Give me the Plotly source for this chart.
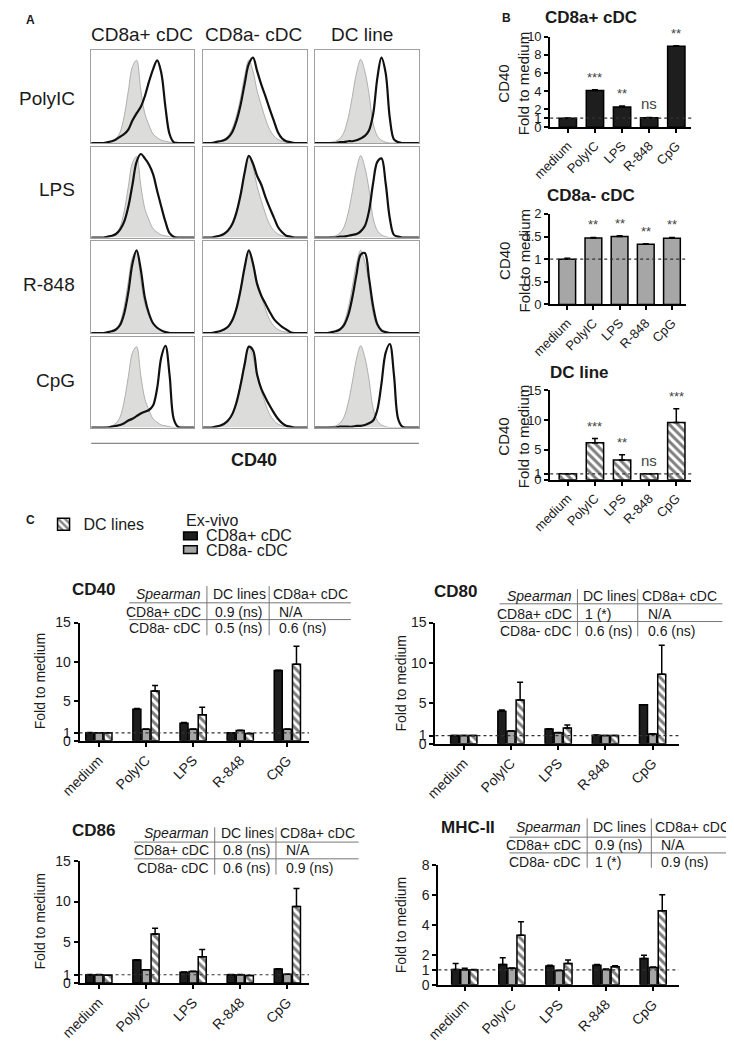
import plotly.graph_objects as go

W, H = 734, 1048
# the html page puts the figure 8px in from the top-left corner (body margin),
# so the figure is drawn 8px smaller and all pixel positions are shifted by it
OFF = 8
FW, FH = W - OFF, H - OFF
FONT = "Liberation Sans, Arial, sans-serif"

################################################################################
# data
################################################################################

STIMULI = ['PolyIC', 'LPS', 'R-848', 'CpG']
CELLS = ['CD8a+ cDC', 'CD8a- cDC', 'DC line']
CATS = ['medium', 'PolyIC', 'LPS', 'R-848', 'CpG']

# panel A histograms: relative position in the box / relative height
HIST_X = [0.00, 0.04, 0.08, 0.12, 0.16, 0.20, 0.24, 0.28, 0.32, 0.36, 0.40, 0.44, 0.48,
          0.52, 0.56, 0.60, 0.64, 0.68, 0.72, 0.76, 0.80, 0.84, 0.88, 0.92, 0.96, 1.00]

# grey filled = medium control, one per column
CTRL_CD8P = [0, 0, 0, 0, 0.01, 0.02, 0.05, 0.12, 0.3, 0.58, 0.85, 0.92, 0.6, 0.33, 0.2, 0.1,
             0.06, 0.03, 0.02, 0.01, 0, 0, 0, 0, 0, 0]
CTRL_CD8N = [0, 0, 0, 0.01, 0.02, 0.04, 0.08, 0.16, 0.3, 0.5, 0.75, 0.92, 0.8, 0.58, 0.42, 0.27,
             0.15, 0.08, 0.04, 0.02, 0.01, 0, 0, 0, 0, 0]
CTRL_DCL = [0, 0, 0, 0, 0.01, 0.02, 0.05, 0.12, 0.28, 0.52, 0.78, 0.93, 0.8, 0.55, 0.22, 0.08,
            0.03, 0.01, 0, 0, 0, 0, 0, 0, 0, 0]

# black line = stimulated
POLYIC_CD8P = [0, 0, 0, 0, 0.01, 0.02, 0.04, 0.07, 0.1, 0.15, 0.25, 0.33, 0.4, 0.52, 0.68, 0.82,
               0.92, 0.78, 0.4, 0.1, 0.01, 0, 0, 0, 0, 0]
POLYIC_CD8N = [0, 0, 0, 0.01, 0.02, 0.03, 0.06, 0.12, 0.24, 0.42, 0.66, 0.88, 0.95, 0.8, 0.65, 0.52,
               0.38, 0.25, 0.12, 0.05, 0.02, 0.01, 0, 0, 0, 0]
POLYIC_DCL = [0, 0, 0, 0, 0, 0, 0.01, 0.01, 0.02, 0.02, 0.03, 0.05, 0.08, 0.14, 0.32, 0.72,
              0.95, 0.78, 0.28, 0.04, 0.01, 0, 0, 0, 0, 0]
LPS_CD8P = [0, 0, 0, 0, 0.01, 0.02, 0.04, 0.09, 0.18, 0.35, 0.6, 0.86, 0.95, 0.9, 0.83, 0.72,
            0.53, 0.35, 0.18, 0.05, 0.01, 0, 0, 0, 0, 0]
LPS_CD8N = [0, 0, 0, 0.01, 0.02, 0.04, 0.08, 0.15, 0.28, 0.48, 0.74, 0.93, 0.84, 0.7, 0.6, 0.46,
            0.34, 0.23, 0.12, 0.06, 0.02, 0.01, 0, 0, 0, 0]
LPS_DCL = [0, 0, 0, 0, 0, 0, 0.01, 0.01, 0.02, 0.03, 0.04, 0.07, 0.13, 0.3, 0.62, 0.86,
           0.9, 0.62, 0.22, 0.03, 0.01, 0, 0, 0, 0, 0]
R848_CD8P = [0, 0, 0, 0, 0.01, 0.02, 0.04, 0.09, 0.22, 0.46, 0.78, 0.93, 0.72, 0.4, 0.22, 0.11,
             0.06, 0.03, 0.01, 0, 0, 0, 0, 0, 0, 0]
R848_CD8N = [0, 0, 0, 0.01, 0.02, 0.04, 0.07, 0.14, 0.27, 0.48, 0.74, 0.93, 0.78, 0.55, 0.42, 0.33,
             0.24, 0.16, 0.11, 0.07, 0.04, 0.01, 0, 0, 0, 0]
R848_DCL = [0, 0, 0, 0, 0.01, 0.02, 0.04, 0.09, 0.2, 0.4, 0.66, 0.88, 0.9, 0.62, 0.3, 0.1,
            0.03, 0.01, 0, 0, 0, 0, 0, 0, 0, 0]
CPG_CD8P = [0, 0, 0, 0, 0, 0.01, 0.02, 0.03, 0.05, 0.08, 0.1, 0.13, 0.16, 0.18, 0.2, 0.25,
            0.45, 0.8, 0.93, 0.6, 0.1, 0.01, 0, 0, 0, 0]
CPG_CD8N = [0, 0, 0, 0.01, 0.02, 0.04, 0.08, 0.15, 0.28, 0.48, 0.72, 0.92, 0.88, 0.6, 0.44, 0.34,
            0.25, 0.17, 0.1, 0.05, 0.02, 0.01, 0, 0, 0, 0]
CPG_DCL = [0, 0, 0, 0, 0, 0, 0.01, 0.01, 0.01, 0.01, 0.02, 0.02, 0.03, 0.05, 0.08, 0.2,
           0.5, 0.85, 0.95, 0.6, 0.1, 0.01, 0, 0, 0, 0]

# panel B: CD40 fold to medium
B_CD8P = [1.0, 4.05, 2.25, 1.05, 8.95]
B_CD8P_ERR = [0.02, 0.08, 0.1, 0.03, 0.05]
B_CD8P_SIG = ['', '***', '**', 'ns', '**']
B_CD8N = [1.0, 1.47, 1.5, 1.33, 1.46]
B_CD8N_ERR = [0.02, 0.01, 0.02, 0.01, 0.02]
B_CD8N_SIG = ['', '**', '**', '**', '**']
B_DCL = [1.0, 6.2, 3.3, 1.0, 9.6]
B_DCL_ERR = [0, 0.7, 0.9, 0, 2.3]
B_DCL_SIG = ['', '***', '**', 'ns', '***']

# panel C: fold to medium, ex-vivo vs DC lines
CD40_CD8P = [1.0, 4.0, 2.2, 1.0, 8.9]
CD40_CD8P_ERR = [0.03, 0.1, 0.1, 0.02, 0.05]
CD40_CD8N = [1.0, 1.45, 1.45, 1.3, 1.45]
CD40_CD8N_ERR = [0.02, 0.02, 0.02, 0.02, 0.02]
CD40_DCL = [1.0, 6.3, 3.3, 0.9, 9.7]
CD40_DCL_ERR = [0, 0.7, 0.95, 0, 2.3]

CD80_CD8P = [1.0, 4.0, 1.8, 1.05, 4.8]
CD80_CD8P_ERR = [0.02, 0.15, 0.05, 0.02, 0.02]
CD80_CD8N = [1.0, 1.55, 1.35, 1.0, 1.2]
CD80_CD8N_ERR = [0.02, 0.02, 0.02, 0.02, 0.02]
CD80_DCL = [1.0, 5.4, 1.95, 1.0, 8.6]
CD80_DCL_ERR = [0, 2.2, 0.35, 0, 3.6]

CD86_CD8P = [1.0, 2.8, 1.3, 1.0, 1.7]
CD86_CD8P_ERR = [0.02, 0.05, 0.03, 0.02, 0.05]
CD86_CD8N = [1.0, 1.6, 1.4, 1.0, 1.05]
CD86_CD8N_ERR = [0.02, 0.02, 0.02, 0.02, 0.02]
CD86_DCL = [0.95, 6.0, 3.2, 0.9, 9.4]
CD86_DCL_ERR = [0, 0.7, 0.9, 0, 2.2]

MHC_CD8P = [1.03, 1.36, 1.25, 1.3, 1.75]
MHC_CD8P_ERR = [0.4, 0.45, 0.05, 0.05, 0.22]
MHC_CD8N = [1.0, 1.1, 0.95, 1.03, 1.16]
MHC_CD8N_ERR = [0.1, 0.03, 0.03, 0.03, 0.03]
MHC_DCL = [1.0, 3.3, 1.43, 1.2, 4.93]
MHC_DCL_ERR = [0.03, 0.9, 0.22, 0.08, 1.07]

# Spearman tables
SPEARMAN_HEADER = ['<i>Spearman</i>', 'DC lines', 'CD8a+ cDC']
SPEARMAN_ROWS = ['CD8a+ cDC', 'CD8a- cDC']
SPEARMAN_CD40 = [['0.9 (ns)', 'N/A'], ['0.5 (ns)', '0.6 (ns)']]
SPEARMAN_CD80 = [['1 (*)', 'N/A'], ['0.6 (ns)', '0.6 (ns)']]
SPEARMAN_CD86 = [['0.8 (ns)', 'N/A'], ['0.6 (ns)', '0.9 (ns)']]
SPEARMAN_MHC = [['0.9 (ns)', 'N/A'], ['1 (*)', '0.9 (ns)']]

################################################################################

fig = go.Figure()
axes = {}
shapes = []
annotations = []

BLACK = dict(color='#1e1e1e', line=dict(color='black', width=1.5))
GREY = dict(color='#a6a6a6', line=dict(color='black', width=1.5))
HATCH = dict(color='white', line=dict(color='black', width=1.5),
             pattern=dict(shape='\\', fgcolor='black', bgcolor='white', size=6, solidity=0.5))


def px(x):
    return (x - OFF) / FW


def py(y):
    return 1 - (y - OFF) / FH


def refs(n):
    s = '' if n == 1 else str(n)
    return 'xaxis' + s, 'yaxis' + s, 'x' + s, 'y' + s


def add_axes(n, box, xprops, yprops):
    # box in page pixels: (left, right, top, bottom)
    x0, x1, y0, y1 = box
    xa, ya, xr, yr = refs(n)
    axes[xa] = dict(domain=[px(x0), px(x1)], anchor=yr, **xprops)
    axes[ya] = dict(domain=[py(y1), py(y0)], anchor=xr, **yprops)
    return xr, yr


def text(x, y, s, size=14, xanchor='center', angle=0, color='#1a1a1a'):
    annotations.append(dict(x=px(x), y=py(y), xref='paper', yref='paper', text=s,
                            showarrow=False, xanchor=xanchor, yanchor='middle',
                            textangle=angle, font=dict(family=FONT, size=size, color=color)))


def line(x0, y0, x1, y1, color='#777777', width=1):
    shapes.append(dict(type='line', xref='paper', yref='paper', x0=px(x0), x1=px(x1),
                       y0=py(y0), y1=py(y1), line=dict(color=color, width=width)))


def swatch(x0, y0, x1, y1, color):
    shapes.append(dict(type='rect', xref='paper', yref='paper', x0=px(x0), x1=px(x1),
                       y0=py(y1), y1=py(y0), fillcolor=color,
                       line=dict(color='black', width=1.5)))


# ---------------- panel A: histograms ----------------
HIST_COLS = [(73, 179), (188, 295), (303, 410)]
HIST_ROWS = [(43, 137), (141, 233), (237, 330), (334, 426)]
ctrl = [CTRL_CD8P, CTRL_CD8N, CTRL_DCL]
stim = [[POLYIC_CD8P, POLYIC_CD8N, POLYIC_DCL],
        [LPS_CD8P, LPS_CD8N, LPS_DCL],
        [R848_CD8P, R848_CD8N, R848_DCL],
        [CPG_CD8P, CPG_CD8N, CPG_DCL]]

hist_ax = dict(showline=True, mirror=True, linecolor='#a0a0a0', linewidth=1,
               showticklabels=False, ticks='', showgrid=False, zeroline=False, fixedrange=True)
n = 1
for r, (y0, y1) in enumerate(HIST_ROWS):
    for c, (x0, x1) in enumerate(HIST_COLS):
        xr, yr = add_axes(n, (x0, x1, y0, y1), dict(hist_ax, range=[0, 1]),
                          dict(hist_ax, range=[0, 1.03]))
        fig.add_trace(go.Scatter(x=HIST_X, y=ctrl[c], xaxis=xr, yaxis=yr, mode='lines',
                                 fill='tozeroy', fillcolor='#dcdcda',
                                 line=dict(color='#a0a0a0', width=0.8, shape='spline'),
                                 showlegend=False, hoverinfo='skip'))
        fig.add_trace(go.Scatter(x=HIST_X, y=stim[r][c], xaxis=xr, yaxis=yr, mode='lines',
                                 line=dict(color='#111111', width=2.2, shape='spline'),
                                 showlegend=False, hoverinfo='skip'))
        n += 1

text(11, 12, '<b>A</b>', size=12)
for name, xc in zip(CELLS, [125, 240, 351]):
    text(xc, 27, name, size=19)
for name, yc in zip(STIMULI, [92, 184, 281, 378]):
    text(58, yc, name, size=19, xanchor='right')
line(73, 442, 410, 442, color='#888888', width=1.2)
text(240, 459, '<b>CD40</b>', size=18)


# ---------------- shared bar-axis styling ----------------
def bar_xaxis(rng, size):
    return dict(type='category', range=rng, showline=True, linewidth=2, linecolor='black',
                ticks='outside', ticklen=4, tickwidth=1.5, tickcolor='black', tickangle=-45,
                tickfont=dict(family=FONT, size=size, color='#1a1a1a'),
                showgrid=False, zeroline=False, fixedrange=True)


def bar_yaxis(rng, tickvals, size):
    return dict(range=rng, tickvals=tickvals, showline=True, linewidth=2, linecolor='black',
                ticks='outside', ticklen=4, tickwidth=1.5, tickcolor='black',
                tickfont=dict(family=FONT, size=size, color='#1a1a1a'),
                showgrid=False, zeroline=False, fixedrange=True)


def dotted_one(xr, yr):
    shapes.append(dict(type='line', xref=xr + ' domain', yref=yr, x0=0, x1=1, y0=1, y1=1,
                       line=dict(color='#333333', width=1.2, dash='dot')))


def err(vals):
    return dict(type='data', array=vals, arrayminus=[0] * len(vals), symmetric=False,
                color='black', thickness=1.5, width=3)


# ---------------- panel B ----------------
B_PANELS = [
    ('CD8a+ cDC', B_CD8P, B_CD8P_ERR, B_CD8P_SIG, BLACK, (545, 690, 29, 121), [0, 10],
     [0, 1, 2, 4, 6, 8, 10], 587, 10),
    ('CD8a- cDC', B_CD8N, B_CD8N_ERR, B_CD8N_SIG, GREY, (545, 685, 209, 301), [0, 2],
     [0, 0.5, 1, 1.5, 2], 587, 190),
    ('DC line', B_DCL, B_DCL_ERR, B_DCL_SIG, HATCH, (545, 690, 388, 479), [0, 15],
     [0, 1, 5, 10, 15], 575, 370),
]
text(500, 10, '<b>B</b>', size=12)
for title, vals, errs, sig, style, box, yrng, ticks, tx, ty in B_PANELS:
    xr, yr = add_axes(n, box, bar_xaxis([-0.65, 4.55], 13), bar_yaxis(yrng, ticks, 13))
    fig.add_trace(go.Bar(x=CATS, y=vals, error_y=err(errs), marker=style, width=0.64,
                         xaxis=xr, yaxis=yr, showlegend=False, hoverinfo='skip'))
    dotted_one(xr, yr)
    for cat, v, e, s in zip(CATS, vals, errs, sig):
        if s:
            annotations.append(dict(x=cat, y=v + e, xref=xr, yref=yr, text=s, showarrow=False,
                                    yanchor='bottom', yshift=3,
                                    font=dict(family=FONT, size=13 if s != 'ns' else 15,
                                              color='#444444')))
    text(tx, ty, '<b>' + title + '</b>', size=17)
    text(508, (box[2] + box[3]) / 2 + 2, 'CD40<br>Fold to medium', size=15, angle=-90)
    n += 1

# ---------------- panel C ----------------
text(11, 520, '<b>C</b>', size=12)
text(168, 520, 'Ex-vivo', size=16, xanchor='left')
swatch(168, 532, 182, 540, '#1e1e1e')
text(189, 536, 'CD8a+ cDC', size=16, xanchor='left')
swatch(168, 546, 182, 554, '#a6a6a6')
text(189, 551, 'CD8a- cDC', size=16, xanchor='left')

C_PANELS = [
    ('CD40', (61, 297, 624, 744), [-0.41, 4.46], [0, 15], [0, 1, 5, 10, 15],
     CD40_CD8P, CD40_CD8P_ERR, CD40_CD8N, CD40_CD8N_ERR, CD40_DCL, CD40_DCL_ERR,
     (75, 590), 20, SPEARMAN_CD40, (192, 256, 112, 340, 595, 613, 630, 604, 621, 587, 637)),
    ('CD80', (427, 677, 624, 747), [-0.6, 4.55], [0, 15], [0, 1, 5, 10, 15],
     CD80_CD8P, CD80_CD8P_ERR, CD80_CD8N, CD80_CD8N_ERR, CD80_DCL, CD80_DCL_ERR,
     (448, 592), 392, SPEARMAN_CD80, (573, 635, 493, 722, 597, 615, 633, 605, 623, 590, 638)),
    ('CD86', (61, 297, 866, 990), [-0.41, 4.46], [0, 15], [0, 1, 5, 10, 15],
     CD86_CD8P, CD86_CD8P_ERR, CD86_CD8N, CD86_CD8N_ERR, CD86_DCL, CD86_DCL_ERR,
     (75, 835), 20, SPEARMAN_CD86, (200, 263, 117, 348, 838, 855, 873, 847, 864, 832, 880)),
    ('MHC-II', (430, 677, 870, 992), [-0.56, 4.54], [0, 8], [0, 1, 2, 4, 6, 8],
     MHC_CD8P, MHC_CD8P_ERR, MHC_CD8N, MHC_CD8N_ERR, MHC_DCL, MHC_DCL_ERR,
     (460, 832), 391, SPEARMAN_MHC, (583, 649, 503, 733, 832, 850, 867, 842, 858, 823, 873)),
]

first = True
for (title, box, xrng, yrng, ticks, p, pe, m, me, d, de, tpos, ytx, table, geo) in C_PANELS:
    xr, yr = add_axes(n, box, bar_xaxis(xrng, 14), bar_yaxis(yrng, ticks, 14))
    fig.add_trace(go.Bar(x=CATS, y=p, error_y=err(pe), marker=BLACK, name='CD8a+ cDC',
                         xaxis=xr, yaxis=yr, showlegend=False, hoverinfo='skip'))
    fig.add_trace(go.Bar(x=CATS, y=m, error_y=err(me), marker=GREY, name='CD8a- cDC',
                         xaxis=xr, yaxis=yr, showlegend=False, hoverinfo='skip'))
    fig.add_trace(go.Bar(x=CATS, y=d, error_y=err(de), marker=HATCH, name='DC lines',
                         xaxis=xr, yaxis=yr, showlegend=first, hoverinfo='skip'))
    first = False
    dotted_one(xr, yr)
    text(tpos[0], tpos[1], '<b>' + title + '</b>', size=17)
    text(ytx, (box[2] + box[3]) / 2, 'Fold to medium', size=14, angle=-90)

    # Spearman table
    s1, s2, xl, xrt, yh, yr1, yr2, hl1, hl2, vt, vb = geo
    text(s1 - 4, yh, SPEARMAN_HEADER[0], xanchor='right')
    text(s1 + 4, yh, SPEARMAN_HEADER[1], xanchor='left')
    text(s2 + 2, yh, SPEARMAN_HEADER[2], xanchor='left')
    for rowname, vals, yy in zip(SPEARMAN_ROWS, table, [yr1, yr2]):
        text(s1 - 4, yy, rowname, xanchor='right')
        text(s1 + 6, yy, vals[0], xanchor='left')
        text(s2 + 8, yy, vals[1], xanchor='left')
    line(xl, hl1, xrt, hl1)
    line(xl, hl2, xrt, hl2)
    line(s1, vt, s1, vb)
    line(s2, vt, s2, vb)
    n += 1

fig.update_layout(
    width=FW, height=FH, margin=dict(l=0, r=0, t=0, b=0),
    paper_bgcolor='white', plot_bgcolor='white',
    font=dict(family=FONT, color='#1a1a1a'),
    barmode='group', bargap=0.42, bargroupgap=0.12,
    shapes=shapes, annotations=annotations,
    showlegend=True,
    legend=dict(x=px(24), y=py(507), xanchor='left', yanchor='top',
                bgcolor='rgba(0,0,0,0)', font=dict(family=FONT, size=16)),
    **axes,
)

fig.write_html("out.html")
